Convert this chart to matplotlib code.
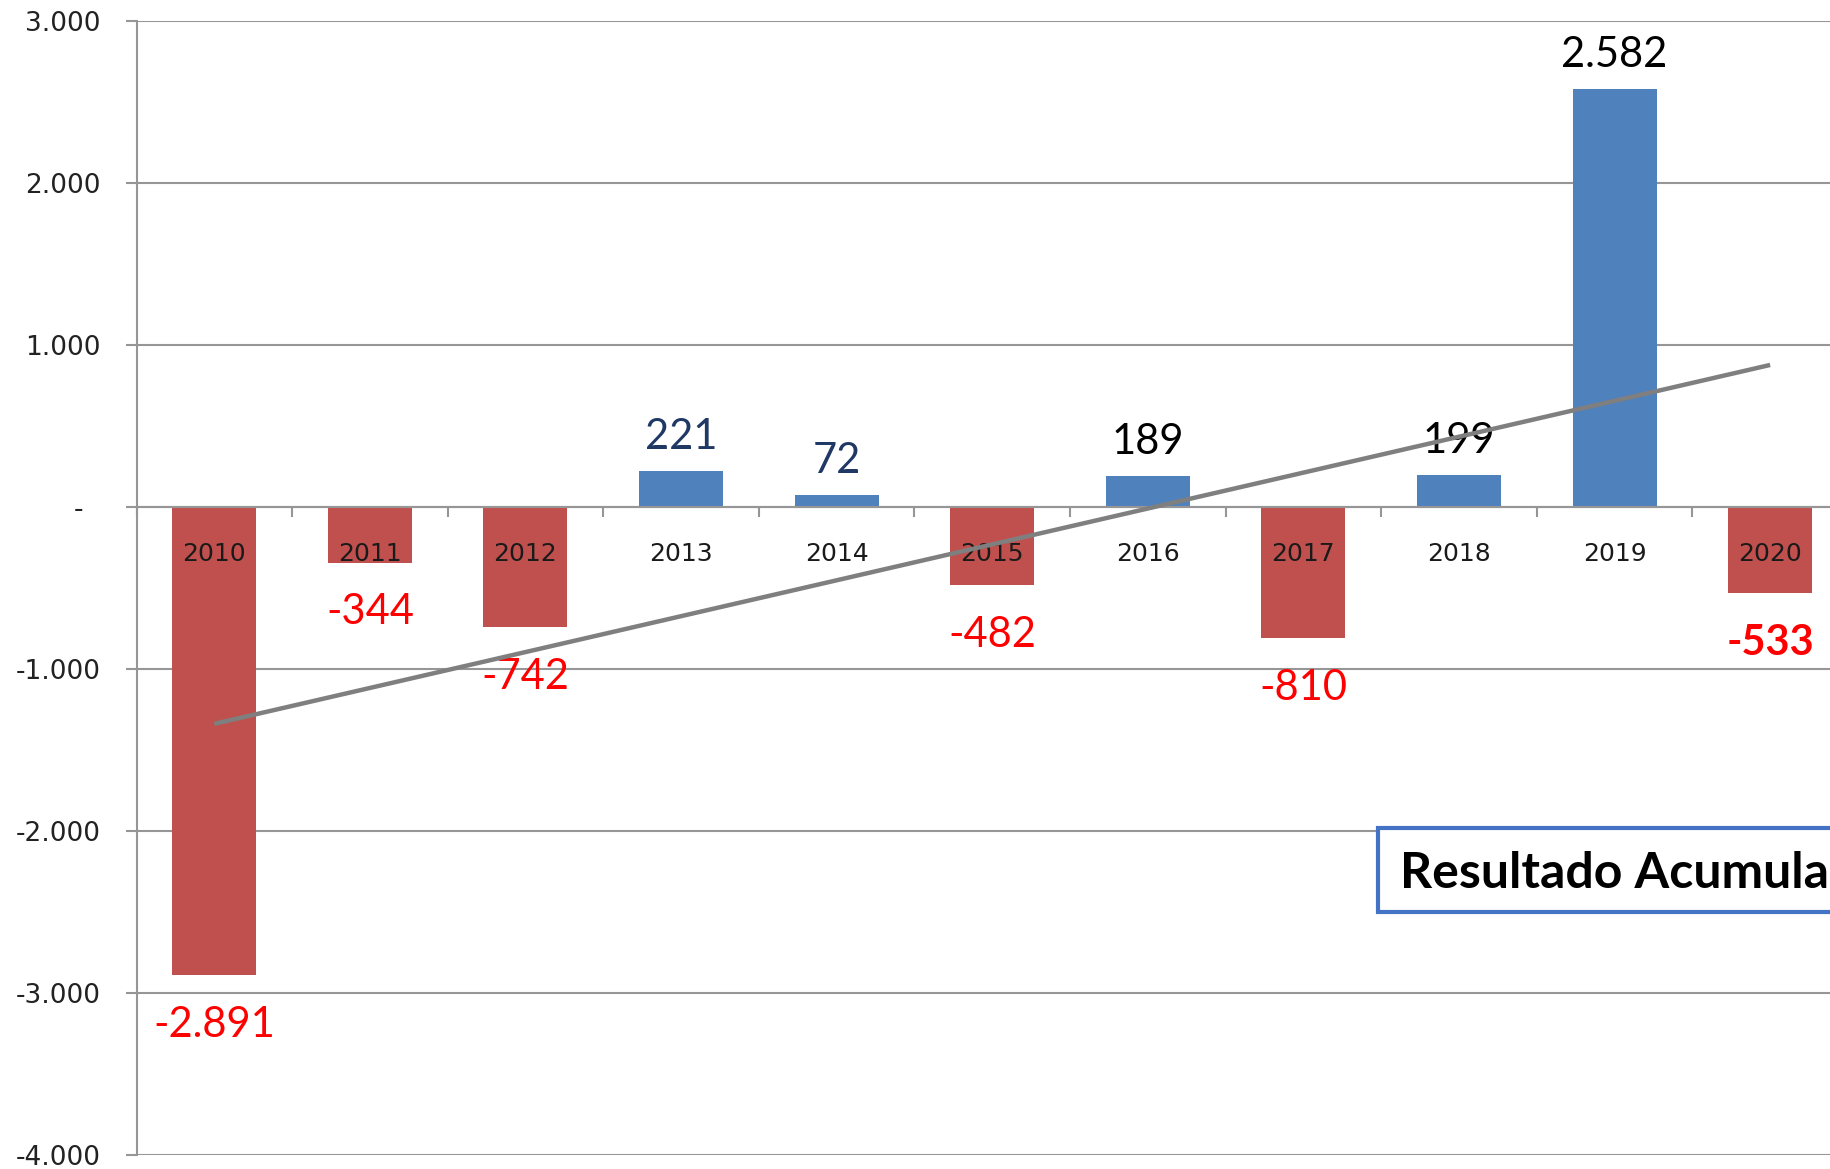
import numpy as np
import matplotlib
matplotlib.use('Agg')
import matplotlib.pyplot as plt
from matplotlib.patches import Rectangle
from matplotlib.ticker import FuncFormatter

# Data
years = ['2010', '2011', '2012', '2013', '2014', '2015', '2016', '2017', '2018', '2019', '2020']
results = [-2891, -344, -742, 221, 72, -482, 189, -810, 199, 2582, -533]
box_title = 'Resultado Acumulado'

# Label colours (style only)
label_colors = ['#FF0000', '#FF0000', '#FF0000', '#1F3864', '#1F3864', '#FF0000',
                '#000000', '#FF0000', '#000000', '#000000', '#FF0000']
label_bold = [False] * 10 + [True]

RED = '#C0504D'
BLUE = '#4F81BD'
GRID = '#969696'


def thousands(v):
    # Excel style number: dot as thousands separator
    return f'{v:,.0f}'.replace(',', '.')


def ytick_fmt(v, pos):
    if v == 0:
        return '-  '
    return thousands(v)


fig = plt.figure(figsize=(18.3, 11.69), dpi=100)
# axes run past the right edge, the original screenshot was cropped
ax = fig.add_axes([0.0746, 0.012, 0.9352, 0.970])

x = np.arange(len(years))
colors = [BLUE if v >= 0 else RED for v in results]
ax.bar(x, results, width=0.54, color=colors, linewidth=0, zorder=2)

# Linear trendline
slope, intercept = np.polyfit(x, results, 1)
ax.plot([x[0], x[-1]], [intercept, slope * x[-1] + intercept],
        color='#7F7F7F', linewidth=3.2, zorder=6, solid_capstyle='butt')

# Value labels
for i, v in enumerate(results):
    weight = 'bold' if label_bold[i] else 'normal'
    if v >= 0:
        ax.annotate(thousands(v), (x[i], v), xytext=(0, 16), textcoords='offset points',
                    ha='center', va='baseline', fontsize=30, family='Lato',
                    color=label_colors[i], fontweight=weight, zorder=5)
    else:
        ax.annotate(thousands(v), (x[i], v), xytext=(0, -22), textcoords='offset points',
                    ha='center', va='top', fontsize=30, family='Lato',
                    color=label_colors[i], fontweight=weight, zorder=5)

# Category labels sit just under the zero line, on top of the bars
for i, year in enumerate(years):
    ax.annotate(year, (x[i], 0), xytext=(0, -25), textcoords='offset points',
                ha='center', va='top', fontsize=18, family='DejaVu Sans',
                color='#1A1A1A', zorder=5)

# Axes setup
ax.set_xlim(-0.5, len(years) - 0.5)
ax.set_ylim(-4000, 3000)
ax.set_yticks(np.arange(-4000, 3001, 1000))
ax.yaxis.set_major_formatter(FuncFormatter(ytick_fmt))
ax.set_xticks(np.arange(-0.5, len(years), 1))
ax.set_xticklabels([])
ax.set_axisbelow(True)
ax.grid(axis='y', color=GRID, linewidth=1.5, zorder=0)

ax.spines['bottom'].set_position(('data', 0))
ax.spines['bottom'].set_color(GRID)
ax.spines['bottom'].set_linewidth(1.5)
ax.spines['left'].set_color(GRID)
ax.spines['left'].set_linewidth(1.5)
ax.spines['top'].set_visible(False)
ax.spines['right'].set_visible(False)

ax.tick_params(axis='y', length=8, width=1.5, color=GRID, pad=18,
               labelsize=19, labelcolor='#222222')
ax.tick_params(axis='x', direction='out', length=7, width=1.5, color=GRID)
for lbl in ax.get_yticklabels():
    lbl.set_family('DejaVu Sans')

# Boxed title on the lower right, cut off by the edge like the original
fig.patches.append(Rectangle((0.753, 0.2198), 0.4, 0.0719, transform=fig.transFigure,
                             facecolor='white', edgecolor='#4472C4', linewidth=3, zorder=10))
fig.text(0.765, 0.2404, box_title, fontsize=36, family='Lato', fontweight='bold',
         color='black', va='baseline', ha='left', zorder=11)

fig.savefig('out.png', dpi=100)
